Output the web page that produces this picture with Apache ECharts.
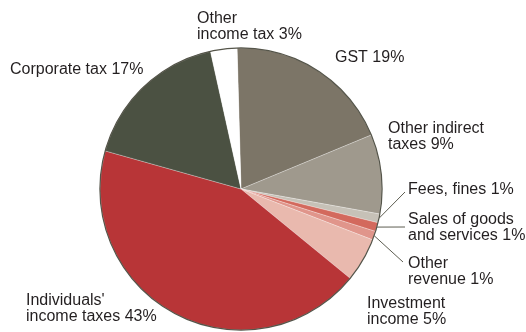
<!DOCTYPE html>
<html>
<head>
<meta charset="utf-8">
<script src="https://cdn.jsdelivr.net/npm/echarts@6/dist/echarts.min.js"></script>
<style>
  html, body { margin: 0; padding: 0; background: #ffffff; }
  #chart { width: 526px; height: 332px; }
</style>
</head>
<body>
<div id="chart"></div>
<script>
// Revenue composition, clockwise from the top
const categories = [
  'GST', 'Other indirect taxes', 'Fees, fines', 'Sales of goods and services',
  'Other revenue', 'Investment income', "Individuals' income taxes",
  'Corporate tax', 'Other income tax'
];
const shares = [19, 9, 1, 1, 1, 5, 43, 17, 3];
const labelTexts = [
  'GST 19%', 'Other indirect\ntaxes 9%', 'Fees, fines 1%', 'Sales of goods\nand services 1%',
  'Other\nrevenue 1%', 'Investment\nincome 5%', "Individuals'\nincome taxes 43%",
  'Corporate tax 17%', 'Other\nincome tax 3%'
];

const sliceColors = [
  '#7c7567', '#9f998d', '#c6c1b7', '#d3695d', '#e0958b', '#e9b9ae',
  '#b83537', '#4b5142', '#ffffff'
];

// Pie geometry
const CX = 241, CY = 189, R = 141, START = 91.6;

// Label anchors (left edge, top of text block)
const labelPos = [
  [335, 50], [388, 121], [408, 182], [408, 212],
  [408, 256], [367, 296], [26, 293], [10, 62], [197, 11]
];
// End points of leader lines for the small slices
const leaderEnds = { 2: [405, 192], 3: [405, 227], 4: [403, 262] };

const total = shares.reduce((a, b) => a + b, 0);
function edgePoint(i) {
  let cum = 0;
  for (let k = 0; k < i; k++) cum += shares[k];
  const deg = START - (cum + shares[i] / 2) / total * 360;
  const rad = deg * Math.PI / 180;
  return [CX + R * Math.cos(rad), CY - R * Math.sin(rad)];
}

const chart = echarts.init(document.getElementById('chart'), null, { renderer: 'canvas' });
chart.setOption({
  animation: false,
  backgroundColor: '#ffffff',
  series: [
    {
      type: 'pie',
      center: [CX, CY],
      radius: [0, R],
      startAngle: START,
      clockwise: true,
      avoidLabelOverlap: false,
      silent: true,
      itemStyle: { borderColor: 'rgba(255,255,255,0.45)', borderWidth: 0.6 },
      label: {
        show: true,
        position: 'outside',
        fontFamily: 'Liberation Sans, Arial, sans-serif',
        fontSize: 16,
        lineHeight: 16,
        color: '#231f20',
        formatter: p => labelTexts[p.dataIndex]
      },
      labelLine: {
        show: true,
        lineStyle: { color: '#5e5e52', width: 1 }
      },
      labelLayout: function (p) {
        const i = p.dataIndex;
        const pos = labelPos[i];
        const out = { x: pos[0], y: pos[1], align: 'left', verticalAlign: 'top' };
        if (leaderEnds[i]) {
          out.labelLinePoints = [edgePoint(i), leaderEnds[i], leaderEnds[i]];
        } else {
          const e = edgePoint(i);
          out.labelLinePoints = [e, e, e];
        }
        return out;
      },
      data: categories.map((name, i) => ({
        name: name,
        value: shares[i],
        itemStyle: { color: sliceColors[i] },
        labelLine: { show: !!leaderEnds[i] }
      }))
    },
    {
      // outer rim of the pie
      type: 'pie',
      center: [CX, CY],
      radius: [R - 0.5, R + 0.7],
      silent: true,
      label: { show: false },
      labelLine: { show: false },
      itemStyle: { color: '#55554a', borderWidth: 0 },
      data: [{ name: 'rim', value: total }]
    }
  ]
});
</script>
</body>
</html>
